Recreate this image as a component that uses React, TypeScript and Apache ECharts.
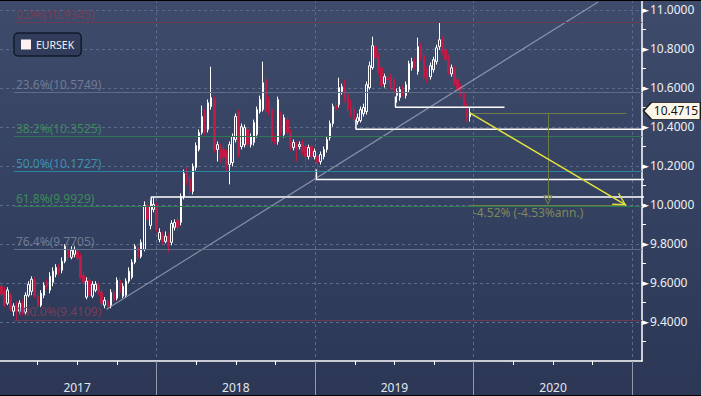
import React, { useEffect, useRef } from 'react';
import * as echarts from 'echarts';

// ---------- data ----------
const firstWeek = '2017-01-09';
// weekly candles: [open, close, low, high]
const ohlc: number[][] = [
  [9.583, 9.542, 9.532, 9.598], [9.557, 9.486, 9.476, 9.578], [9.496, 9.563, 9.486, 9.578], [9.537, 9.465, 9.455, 9.547],
  [9.455, 9.481, 9.43, 9.496], [9.486, 9.455, 9.4109, 9.506], [9.455, 9.496, 9.44, 9.511], [9.496, 9.45, 9.435, 9.516],
  [9.45, 9.537, 9.44, 9.552], [9.537, 9.593, 9.527, 9.609], [9.557, 9.619, 9.537, 9.634], [9.614, 9.532, 9.522, 9.629],
  [9.532, 9.486, 9.47, 9.547], [9.486, 9.547, 9.476, 9.563], [9.537, 9.588, 9.522, 9.603], [9.603, 9.583, 9.568, 9.619],
  [9.563, 9.634, 9.547, 9.655], [9.603, 9.66, 9.583, 9.68], [9.644, 9.68, 9.629, 9.696], [9.68, 9.655, 9.639, 9.696],
  [9.665, 9.711, 9.65, 9.731], [9.711, 9.788, 9.701, 9.798], [9.772, 9.731, 9.716, 9.793], [9.731, 9.767, 9.721, 9.788],
  [9.747, 9.772, 9.731, 9.788], [9.762, 9.726, 9.716, 9.782], [9.736, 9.629, 9.619, 9.752], [9.639, 9.603, 9.588, 9.655],
  [9.527, 9.609, 9.516, 9.629], [9.614, 9.537, 9.527, 9.629], [9.532, 9.593, 9.522, 9.609], [9.563, 9.593, 9.552, 9.609],
  [9.588, 9.552, 9.537, 9.603], [9.552, 9.496, 9.481, 9.568], [9.486, 9.511, 9.47, 9.527], [9.506, 9.476, 9.455, 9.522],
  [9.486, 9.552, 9.47, 9.568], [9.552, 9.511, 9.501, 9.568], [9.522, 9.614, 9.511, 9.629], [9.614, 9.552, 9.532, 9.629],
  [9.532, 9.583, 9.522, 9.598], [9.537, 9.609, 9.527, 9.624], [9.609, 9.66, 9.598, 9.68], [9.629, 9.706, 9.619, 9.721],
  [9.706, 9.788, 9.696, 9.798], [9.782, 9.731, 9.721, 9.803], [9.736, 9.808, 9.726, 9.823], [9.772, 9.997, 9.762, 10.018],
  [9.997, 9.926, 9.91, 10.028], [9.895, 9.992, 9.875, 10.023], [9.977, 10.002, 9.962, 10.038], [9.997, 9.875, 9.859, 10.013],
  [9.823, 9.859, 9.808, 9.88], [9.849, 9.813, 9.798, 9.864], [9.813, 9.839, 9.803, 9.864], [9.839, 9.788, 9.757, 9.854],
  [9.808, 9.905, 9.793, 9.921], [9.885, 9.91, 9.869, 9.926], [9.921, 9.885, 9.869, 9.936], [9.91, 10.043, 9.895, 10.059],
  [10.043, 10.161, 10.028, 10.181], [10.166, 10.115, 10.1, 10.192], [10.135, 10.069, 10.048, 10.151], [10.069, 10.197, 10.054, 10.212],
  [10.192, 10.304, 10.176, 10.32], [10.284, 10.371, 10.274, 10.386], [10.371, 10.453, 10.36, 10.509], [10.478, 10.376, 10.36, 10.493],
  [10.386, 10.524, 10.371, 10.54], [10.504, 10.55, 10.488, 10.708], [10.54, 10.284, 10.268, 10.555], [10.284, 10.309, 10.222, 10.325],
  [10.299, 10.233, 10.217, 10.314], [10.284, 10.243, 10.228, 10.304], [10.268, 10.207, 10.171, 10.284], [10.207, 10.309, 10.105, 10.325],
  [10.217, 10.35, 10.197, 10.366], [10.335, 10.453, 10.32, 10.468], [10.473, 10.258, 10.243, 10.488], [10.299, 10.401, 10.284, 10.417],
  [10.309, 10.396, 10.294, 10.412], [10.386, 10.309, 10.294, 10.401], [10.309, 10.35, 10.294, 10.366], [10.32, 10.422, 10.304, 10.437],
  [10.36, 10.488, 10.345, 10.504], [10.478, 10.54, 10.468, 10.56], [10.488, 10.626, 10.478, 10.734], [10.642, 10.478, 10.468, 10.657],
  [10.54, 10.473, 10.458, 10.555], [10.488, 10.325, 10.309, 10.504], [10.345, 10.32, 10.309, 10.36], [10.325, 10.54, 10.309, 10.555],
  [10.463, 10.371, 10.355, 10.478], [10.36, 10.447, 10.345, 10.463], [10.437, 10.371, 10.355, 10.453], [10.371, 10.294, 10.279, 10.386],
  [10.294, 10.32, 10.279, 10.335], [10.309, 10.284, 10.222, 10.325], [10.299, 10.309, 10.284, 10.325], [10.32, 10.274, 10.258, 10.335],
  [10.299, 10.248, 10.171, 10.314], [10.248, 10.294, 10.233, 10.309], [10.299, 10.248, 10.233, 10.314], [10.248, 10.274, 10.233, 10.289],
  [10.248, 10.217, 10.181, 10.263], [10.222, 10.258, 10.207, 10.274], [10.248, 10.284, 10.233, 10.299], [10.284, 10.335, 10.268, 10.35],
  [10.345, 10.417, 10.33, 10.432], [10.417, 10.504, 10.401, 10.519], [10.509, 10.488, 10.473, 10.529], [10.514, 10.601, 10.499, 10.652],
  [10.58, 10.606, 10.565, 10.621], [10.606, 10.54, 10.524, 10.642], [10.565, 10.488, 10.473, 10.58], [10.499, 10.463, 10.447, 10.54],
  [10.488, 10.437, 10.422, 10.509], [10.427, 10.447, 10.412, 10.468], [10.432, 10.488, 10.422, 10.504], [10.468, 10.499, 10.453, 10.519],
  [10.478, 10.616, 10.463, 10.632], [10.601, 10.713, 10.591, 10.734], [10.703, 10.816, 10.693, 10.862], [10.811, 10.754, 10.744, 10.831],
  [10.759, 10.683, 10.667, 10.775], [10.703, 10.611, 10.596, 10.719], [10.621, 10.657, 10.601, 10.672], [10.652, 10.642, 10.626, 10.667],
  [10.657, 10.606, 10.591, 10.672], [10.642, 10.575, 10.56, 10.657], [10.56, 10.58, 10.524, 10.596], [10.55, 10.591, 10.534, 10.606],
  [10.585, 10.57, 10.555, 10.611], [10.56, 10.616, 10.545, 10.632], [10.591, 10.724, 10.575, 10.739], [10.703, 10.734, 10.688, 10.754],
  [10.734, 10.708, 10.693, 10.754], [10.683, 10.811, 10.667, 10.857], [10.816, 10.754, 10.739, 10.831], [10.765, 10.652, 10.642, 10.78],
  [10.693, 10.642, 10.626, 10.708], [10.657, 10.713, 10.642, 10.729], [10.693, 10.744, 10.678, 10.759], [10.734, 10.805, 10.719, 10.821],
  [10.811, 10.846, 10.795, 10.9345], [10.846, 10.785, 10.77, 10.862], [10.795, 10.744, 10.729, 10.811], [10.754, 10.683, 10.667, 10.77],
  [10.672, 10.703, 10.657, 10.719], [10.698, 10.626, 10.611, 10.713], [10.642, 10.591, 10.575, 10.657], [10.606, 10.565, 10.55, 10.621],
  [10.57, 10.509, 10.493, 10.585], [10.509, 10.453, 10.427, 10.524], [10.453, 10.4715, 10.427, 10.499],
];

const fibLabels = ['0.0%', '23.6%', '38.2%', '50.0%', '61.8%', '76.4%', '100.0%'];
const fibValues = [10.9345, 10.5749, 10.3525, 10.1727, 9.9929, 9.7705, 9.4109];
const fibLineColors = ['#6b3a53', '#626e88', '#2e7a50', '#2b85a0', '#2e7a50', '#626e88', '#6b3a53'];
const fibTextColors = ['#7a3c57', '#6f7b93', '#3b8b5c', '#3a90ad', '#3b8b5c', '#6f7b93', '#7a3c57'];
const fibStart = '2017-02-07';

// white support brackets: start date, bracket tip value, level value, end date
const supportStarts = ['2017-12-20', '2019-01-04', '2019-04-05', '2019-07-05'];
const supportTips = [9.995, 10.181, 10.437, 10.555];
const supportLevels = [10.04, 10.13, 10.387, 10.5];
const supportEnds = ['2021-02-15', '2021-02-15', '2021-02-15', '2020-03-12'];

const trendPoints: [string, number][] = [['2017-09-08', 9.465], ['2020-10-14', 11.04]];

const lastPrice = 10.4715;
const targetPrice = 9.998;
const targetDate = '2020-12-18';
const measureDate = '2020-06-20';
const measureArrowTip = 10.025;
const measureText = '-4.52% (-4.53%ann.)';

const yLabelValues = [9.4, 9.6, 9.8, 10.0, 10.2, 10.4, 10.6, 10.8, 11.0];
const yearBoundaries = [2018, 2019, 2020, 2021];
const yearLabelPos = [2017.5, 2018.5, 2019.5, 2020.5];
const quarterTicks = [2017.25, 2017.5, 2017.75, 2018.25, 2018.5, 2018.75, 2019.25, 2019.5, 2019.75, 2020.25, 2020.5, 2020.75];
const xMin = 2017.0139;
const xMax = 2021.0605;

// ---------- helpers ----------
const DAY = 86400000;
function yearFrac(ms: number): number {
  const d = new Date(ms);
  const y = d.getUTCFullYear();
  const s = Date.UTC(y, 0, 1);
  const e = Date.UTC(y + 1, 0, 1);
  return y + (ms - s) / (e - s);
}
function toX(date: string): number {
  const [y, m, d] = date.split('-').map(Number);
  return yearFrac(Date.UTC(y, m - 1, d));
}

const FONT = "'Noto Sans', 'DejaVu Sans', sans-serif";

export default function App() {
  const ref = useRef<HTMLDivElement>(null);

  useEffect(() => {
    if (!ref.current) return;
    const chart = echarts.init(ref.current, null, { renderer: 'svg' });

    const [fy, fm, fd] = firstWeek.split('-').map(Number);
    const firstMs = Date.UTC(fy, fm - 1, fd);
    const candleData = ohlc.map((r, i) => [yearFrac(firstMs + i * 7 * DAY), r[0], r[1], r[2], r[3]]);
    const lastX = candleData[candleData.length - 1][0];

    const fibLines = fibValues.map((v, i) => [
      {
        coord: [toX(fibStart), v],
        lineStyle: { color: fibLineColors[i], width: 1, type: 'solid' },
        label: {
          show: true,
          position: 'insideStartTop',
          distance: [2, 2],
          formatter: `${fibLabels[i]}(${v.toFixed(4)})`,
          color: fibTextColors[i],
          fontSize: 12,
          fontFamily: FONT,
        },
      },
      { coord: [xMax, v] },
    ]);

    const chevron = 'path://M7,13 L14,25.4 L12.6,26 L7,15.6 L1.4,26 L0,25.4 Z M7,0 L7.01,0 L7,0.01 Z';
    const hollowTri = 'path://M5,0 L10,10 L0,10 Z M5,2.4 L1.8,8.8 L8.2,8.8 Z';
    const tagShape = 'path://M0,8.5 L8,0 L57,0 L57,17 L8,17 Z';

    const supportSeries = supportStarts.map((s, i) => ({
      type: 'line',
      name: 'support' + i,
      data: [
        [toX(s), supportTips[i]],
        [toX(s), supportLevels[i]],
        [toX(supportEnds[i]), supportLevels[i]],
      ],
      showSymbol: false,
      symbol: 'none',
      lineStyle: { color: '#ffffff', width: 1.5 },
      silent: true,
      z: 4,
      clip: true,
    }));

    const option: any = {
      animation: false,
      backgroundColor: new echarts.graphic.LinearGradient(0, 0, 0, 1, [
        { offset: 0, color: '#3e4b6b' },
        { offset: 1, color: '#2b3755' },
      ]),
      grid: { left: 0, right: 59, top: 0, bottom: 35, containLabel: false, outerBoundsMode: 'none' },
      legend: {
        data: [{ name: 'EURSEK', icon: 'rect', itemStyle: { color: '#fff1f1', borderWidth: 0 } }],
        left: 14,
        top: 33,
        itemWidth: 10,
        itemHeight: 10,
        padding: [6, 7, 6, 7],
        backgroundColor: '#303c5a',
        borderColor: '#121a2b',
        borderWidth: 1.5,
        borderRadius: 4,
        selectedMode: false,
        textStyle: { color: '#f2f2f2', fontSize: 10.5, fontFamily: FONT },
        z: 20,
      },
      xAxis: [
        {
          type: 'value',
          min: xMin,
          max: xMax,
          position: 'bottom',
          axisLine: { show: true, onZero: false, lineStyle: { color: '#ffffff', width: 1.5 } },
          axisTick: { show: true, customValues: yearBoundaries, length: 35, lineStyle: { color: '#9099ab', width: 1 } },
          splitLine: { show: true, lineStyle: { color: '#5b6b8b', type: [3, 3], width: 1 } },
          axisLabel: {
            show: true,
            customValues: yearLabelPos,
            formatter: (v: number) => String(Math.floor(v + 1e-9)),
            margin: 20,
            color: '#e4e8ee',
            fontSize: 12,
            fontFamily: FONT,
          },
        },
        {
          type: 'value',
          min: xMin,
          max: xMax,
          position: 'bottom',
          axisLine: { show: false, onZero: false },
          axisTick: { show: true, customValues: quarterTicks, length: 4, lineStyle: { color: '#ffffff', width: 1 } },
          splitLine: { show: false },
          axisLabel: { show: false },
        },
      ],
      yAxis: {
        type: 'value',
        position: 'right',
        min: 9.2,
        max: 11.05,
        interval: 0.2,
        axisLine: { show: true, lineStyle: { color: '#ffffff', width: 1.5 } },
        axisTick: { show: false },
        minorTick: { show: true, splitNumber: 2, length: 4, lineStyle: { color: '#ffffff', width: 1 } },
        splitLine: {
          show: true,
          showMinLine: false,
          showMaxLine: false,
          lineStyle: { color: '#5b6b8b', type: [3, 3], width: 1 },
        },
        axisLabel: {
          margin: 0,
          formatter: (v: number) => {
            const ok = yLabelValues.some((t) => Math.abs(t - v) < 1e-6);
            return ok ? `{t|►}{v|${v.toFixed(4)}}` : '';
          },
          rich: {
            t: { fontSize: 9, lineHeight: 12, color: '#ffffff', fontFamily: "'DejaVu Sans', sans-serif" },
            v: { fontSize: 12, lineHeight: 12, color: '#eef0f4', fontFamily: FONT, padding: [0, 0, 0, 1] },
          },
        },
      },
      graphic: [
        { type: 'rect', shape: { x: 0, y: 0, width: 701, height: 1 }, style: { fill: '#000000' }, z: 100, silent: true },
        { type: 'rect', shape: { x: 0, y: 395, width: 701, height: 1 }, style: { fill: '#000000' }, z: 100, silent: true },
      ],
      series: [
        {
          type: 'line',
          name: 'fib',
          data: [],
          z: 1,
          silent: true,
          markLine: {
            silent: true,
            animation: false,
            symbol: ['none', 'none'],
            label: { show: false },
            data: fibLines,
          },
        },
        {
          type: 'candlestick',
          name: 'EURSEK',
          data: candleData,
          encode: { x: 0, y: [1, 2, 3, 4] },
          barWidth: 2,
          z: 3,
          itemStyle: {
            color: 'rgba(0,0,0,0)',
            color0: '#c01b47',
            borderColor: '#ffffff',
            borderColor0: '#c01b47',
            borderWidth: 1,
          },
        },
        ...supportSeries,
        {
          type: 'line',
          name: 'trend',
          data: trendPoints.map((p) => [toX(p[0]), p[1]]),
          showSymbol: false,
          symbol: 'none',
          lineStyle: { color: 'rgba(200,206,220,0.55)', width: 1.2 },
          silent: true,
          z: 4,
          clip: true,
        },
        {
          type: 'line',
          name: 'measure',
          data: [],
          z: 5,
          silent: true,
          markLine: {
            silent: true,
            animation: false,
            symbol: ['none', 'none'],
            label: { show: false },
            lineStyle: { color: '#6e7c4c', width: 1, type: 'solid' },
            data: [
              [{ coord: [lastX, lastPrice] }, { coord: [toX(targetDate), lastPrice] }],
              [
                { coord: [toX(measureDate), lastPrice] },
                { coord: [toX(measureDate), measureArrowTip], symbol: hollowTri, symbolSize: [10, 10] },
              ],
              [
                {
                  coord: [lastX, targetPrice],
                  label: {
                    show: true,
                    position: 'insideStartBottom',
                    distance: [3, 1],
                    formatter: measureText,
                    color: '#7c885a',
                    fontSize: 12,
                    fontFamily: FONT,
                  },
                },
                { coord: [toX(targetDate), targetPrice] },
              ],
            ],
          },
        },
        {
          type: 'line',
          name: 'arrow',
          data: [],
          z: 6,
          silent: true,
          markLine: {
            silent: true,
            animation: false,
            symbol: ['none', 'none'],
            label: { show: false },
            lineStyle: { color: '#e2e23e', width: 1.5, type: 'solid' },
            data: [
              [
                { coord: [lastX, lastPrice] },
                { coord: [toX(targetDate), targetPrice], symbol: chevron, symbolSize: [14, 26] },
              ],
            ],
          },
          markPoint: {
            silent: true,
            animation: false,
            symbol: tagShape,
            symbolSize: [57, 17],
            symbolOffset: [0, -2],
            symbolKeepAspect: false,
            itemStyle: { color: '#fdf7ea', borderColor: '#1b1b1b', borderWidth: 1 },
            label: {
              show: true,
              position: 'inside',
              offset: [4, 0],
              formatter: lastPrice.toFixed(4),
              color: '#111111',
              fontSize: 12,
              lineHeight: 13,
              fontFamily: FONT,
            },
            data: [{ coord: [lastX, lastPrice], x: 672 }],
          },
        },
      ],
    };

    chart.setOption(option);
    return () => chart.dispose();
  }, []);

  return <div ref={ref} style={{ position: 'absolute', left: 0, top: 0, width: 701, height: 396 }} />;
}
